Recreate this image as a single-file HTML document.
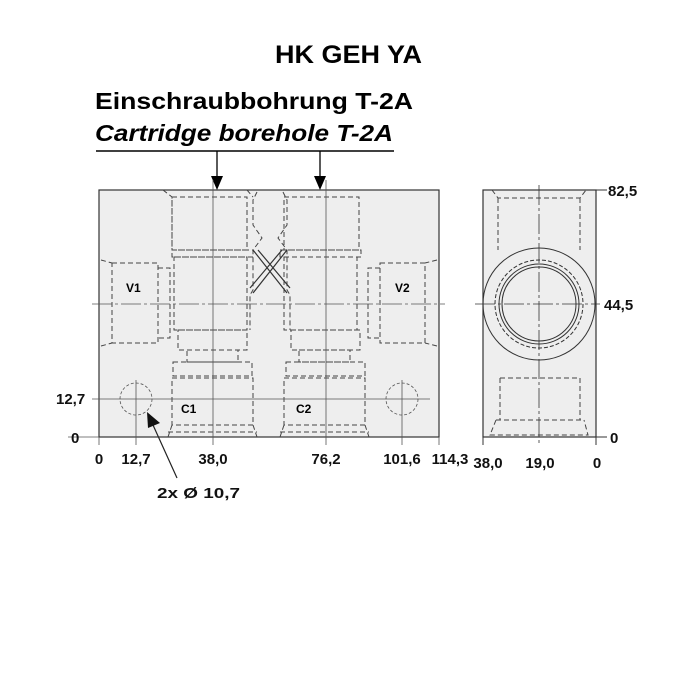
<!DOCTYPE html>
<html><head><style>body{margin:0;background:#fff}svg{display:block}</style></head><body>
<svg width="700" height="700" viewBox="0 0 700 700" xmlns="http://www.w3.org/2000/svg" font-family="Liberation Sans, sans-serif">
<text x="275" y="63" font-size="25" font-weight="bold" textLength="147" lengthAdjust="spacingAndGlyphs">HK GEH YA</text>
<text x="95" y="109" font-size="23" font-weight="bold" textLength="318" lengthAdjust="spacingAndGlyphs">Einschraubbohrung T-2A</text>
<text x="95" y="141" font-size="23" font-weight="bold" font-style="italic" textLength="298" lengthAdjust="spacingAndGlyphs">Cartridge borehole T-2A</text>
<line x1="96" y1="151" x2="394" y2="151" stroke="#000" stroke-width="1.5"/>
<line x1="217" y1="151" x2="217" y2="178" stroke="#000" stroke-width="1.3"/>
<polygon points="211,176 223,176 217,190" fill="#000"/>
<line x1="320" y1="151" x2="320" y2="178" stroke="#000" stroke-width="1.3"/>
<polygon points="314,176 326,176 320,190" fill="#000"/>
<rect x="99" y="190" width="340" height="247" fill="#eeeeee" stroke="#333" stroke-width="1.2"/>
<g fill="none" stroke="#444" stroke-width="1" stroke-dasharray="5,3">
<path d="M163,190 L172,197 L172,250 M247,190 L253,197"/>
<rect x="172" y="197" width="75" height="53"/>
<rect x="172" y="250" width="81" height="7"/>
<rect x="174" y="257" width="73" height="73"/>
<rect x="178" y="330" width="69" height="20"/>
<rect x="187" y="350" width="51" height="12"/>
<rect x="173" y="362" width="79" height="14"/>
<rect x="172" y="378" width="81" height="47"/>
<path d="M172,425 L168,437 M253,425 L257,437 M168,432 L257,432"/>
<rect x="284" y="197" width="75" height="53"/>
<rect x="280" y="250" width="81" height="7"/>
<rect x="284" y="257" width="73" height="73"/>
<rect x="291" y="330" width="69" height="20"/>
<rect x="299" y="350" width="51" height="12"/>
<rect x="286" y="362" width="79" height="14"/>
<rect x="284" y="378" width="81" height="47"/>
<path d="M284,425 L280,437 M365,425 L369,437 M280,432 L369,432"/>
<path d="M257,192 L253,200 L253,225 L262,238 L253,250 L253,290 L250,295 L250,330 M283,192 L287,200 L287,225 L278,238 L287,250 L287,290 L290,295 L290,330"/>
<rect x="112" y="263" width="46" height="80"/>
<path d="M101,260 L112,263 M101,346 L112,343 M158,268 L170,268 L170,338 L158,338"/>
<rect x="380" y="263" width="45" height="80"/>
<path d="M437,260 L425,263 M437,346 L425,343 M380,268 L368,268 L368,338 L380,338"/>
</g>
<g stroke="#333" stroke-width="1.2" fill="none">
<path d="M253,250 L287,293 M287,250 L253,293 M258,250 L290,288 M282,250 L250,288"/>
</g>
<g stroke="#555" stroke-width="0.8" fill="none">
<line x1="213" y1="180" x2="213" y2="445"/>
<line x1="326" y1="180" x2="326" y2="445"/>
<line x1="92" y1="304" x2="445" y2="304" stroke-dasharray="20,3,3,3"/>
<line x1="92" y1="399" x2="430" y2="399"/>
<line x1="136" y1="380" x2="136" y2="445"/>
<line x1="402" y1="380" x2="402" y2="445"/>
<line x1="99" y1="437" x2="99" y2="445"/>
<line x1="439" y1="437" x2="439" y2="445"/>
<line x1="68" y1="437" x2="99" y2="437"/>
<circle cx="136" cy="399" r="16" stroke-dasharray="3,2"/>
<circle cx="402" cy="399" r="16" stroke-dasharray="3,2"/>
</g>
<text x="126" y="292" font-size="12" font-weight="bold">V1</text>
<text x="395" y="292" font-size="12" font-weight="bold">V2</text>
<text x="181" y="413" font-size="12" font-weight="bold">C1</text>
<text x="296" y="413" font-size="12" font-weight="bold">C2</text>
<rect x="483" y="190" width="113" height="247" fill="#eeeeee" stroke="#333" stroke-width="1.2"/>
<g fill="none" stroke="#444" stroke-width="1" stroke-dasharray="5,3">
<path d="M492,190 L498,198 L580,198 L586,190 M498,198 L498,250 M580,198 L580,250"/>
<path d="M500,378 L580,378 M500,378 L500,420 M580,378 L580,420 M496,420 L584,420 M496,420 L490,435 L588,435 L584,420"/>
</g>
<g fill="none" stroke="#333" stroke-width="1">
<circle cx="539" cy="304" r="56"/>
<circle cx="539" cy="304" r="44" stroke-dasharray="4,2"/>
<circle cx="539" cy="304" r="40"/>
<circle cx="539" cy="304" r="37"/>
<line x1="539" y1="185" x2="539" y2="445" stroke-dasharray="20,3,3,3" stroke-width="0.8"/>
<line x1="475" y1="304" x2="600" y2="304" stroke-dasharray="20,3,3,3" stroke-width="0.8"/>
<line x1="596" y1="190" x2="607" y2="190"/>
<line x1="596" y1="437" x2="607" y2="437"/>
<line x1="483" y1="437" x2="483" y2="445"/>
<line x1="596" y1="437" x2="596" y2="445"/>
</g>
<g font-size="15" font-weight="bold" fill="#111">
<text x="56" y="404">12,7</text>
<text x="71" y="443">0</text>
<text x="99" y="464" text-anchor="middle">0</text>
<text x="136" y="464" text-anchor="middle">12,7</text>
<text x="213" y="464" text-anchor="middle">38,0</text>
<text x="326" y="464" text-anchor="middle">76,2</text>
<text x="402" y="464" text-anchor="middle">101,6</text>
<text x="450" y="464" text-anchor="middle">114,3</text>
<text x="488" y="468" text-anchor="middle">38,0</text>
<text x="540" y="468" text-anchor="middle">19,0</text>
<text x="597" y="468" text-anchor="middle">0</text>
<text x="608" y="196">82,5</text>
<text x="604" y="310">44,5</text>
<text x="610" y="443">0</text>
<text x="157" y="498" textLength="83" lengthAdjust="spacingAndGlyphs">2x Ø 10,7</text>
</g>
<line x1="177" y1="478" x2="153" y2="425" stroke="#222" stroke-width="1.2"/>
<polygon points="147,412 148,428 160,423" fill="#111"/>
</svg>
</body></html>
